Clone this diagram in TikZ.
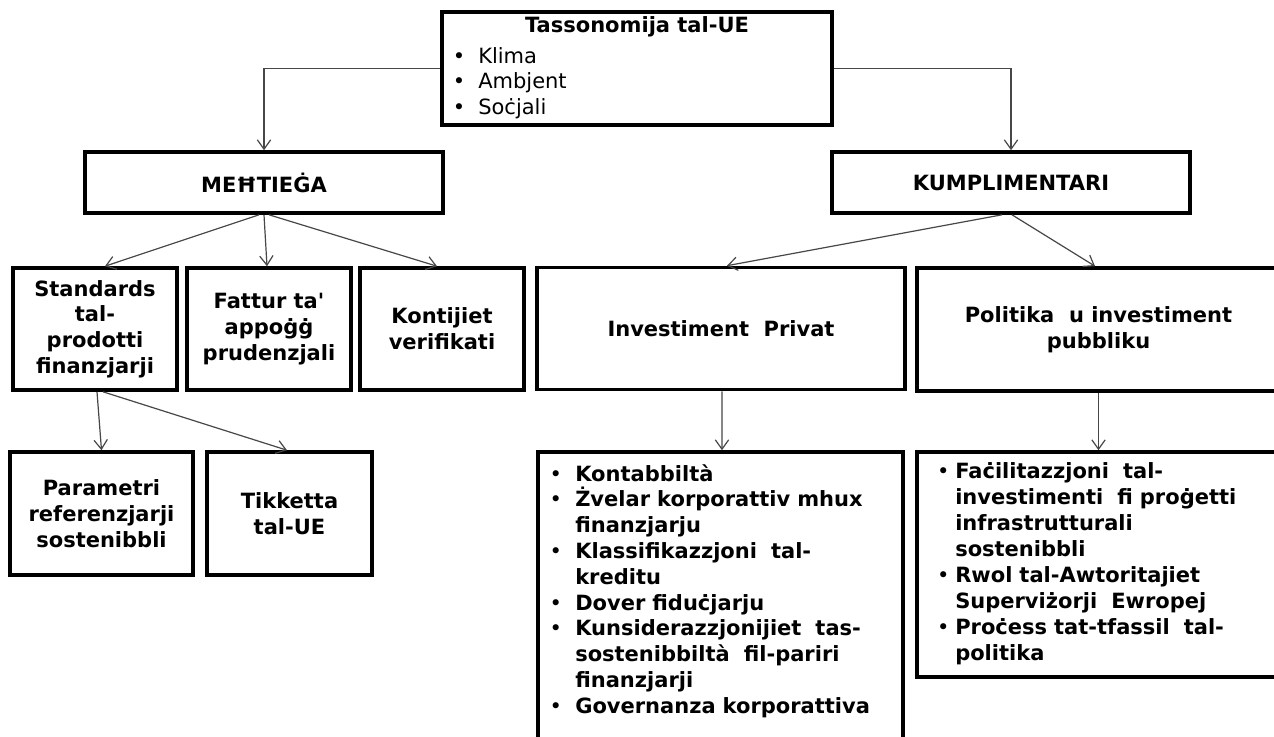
\documentclass[tikz,border=0pt]{standalone}
\usepackage{fontspec}
\setmainfont{DejaVu Sans}
\usetikzlibrary{arrows.meta}
\newcommand{\bigfont}{\fontsize{15.75pt}{19.35pt}\selectfont}
\newcommand{\bulA}{\leavevmode\llap{{\mdseries\textbullet}\hspace{9.8pt}}}
\newcommand{\bulB}{\leavevmode\llap{{\mdseries\textbullet}\hspace{10pt}}}
\newcommand{\bulC}{\leavevmode\llap{{\mdseries\textbullet}\hspace{4.4pt}}}
\tikzset{
  box/.style={draw=black, line width=2.7pt, fill=white, inner sep=0pt, align=center,
    font=\bfseries\bigfont},
  txt/.style={inner sep=0pt, anchor=base west, align=left},
  conn/.style={draw=black!72, line width=0.9pt, -{Straight Barb[length=7pt,width=10pt]}}
}
\begin{document}
\begin{tikzpicture}[x=0.75pt,y=-0.75pt]
\useasboundingbox (0,0) rectangle (1274,736);
\fill[white] (0,0) rectangle (1274,736);
\clip (0,0) rectangle (1274,736);

% top box
\node[box, minimum width=292.5pt, minimum height=84.75pt] (top) at (637,68.5) {};
\node[inner sep=0pt, anchor=base, font=\bfseries\bigfont] (toptitle) at (637,32) {Tassonomija tal-UE};
\node[txt, text width=200pt, font=\fontsize{15.75pt}{19.1pt}\selectfont] (toplist) at (478,63.5)
  {\bulA Klima\\ \bulA Ambjent\\ \bulA Soċjali};

% second level
\node[box, minimum width=268.5pt, minimum height=45.75pt] (meh) at (264,182.5) {MEĦTIEĠA};
\node[box, minimum width=268.5pt, minimum height=45.75pt] (kump) at (1011,182.5) {KUMPLIMENTARI};

% third level
\node[box, minimum width=123pt, minimum height=91.5pt] (std) at (95,329)
  {Standards\\tal-\\prodotti\\finanzjarji};
\node[box, minimum width=123pt, minimum height=91.5pt] (fat) at (269,329)
  {Fattur ta\textquotesingle\\appoġġ\\prudenzjali};
\node[box, minimum width=123pt, minimum height=91.5pt] (kon) at (442,329)
  {Kontijiet\\verifikati};
\node[box, minimum width=276pt, minimum height=91.5pt] (inv) at (721,328.5)
  {Investiment\ \ Privat};
\node[box, minimum width=272.25pt, minimum height=92.25pt] (pol) at (1098.5,329.5)
  {Politika\ \ u investiment\\pubbliku};

% fourth level
\node[box, minimum width=137.25pt, minimum height=92.25pt] (par) at (101.5,513.5)
  {Parametri\\referenzjarji\\sostenibbli};
\node[box, minimum width=123.75pt, minimum height=92.25pt] (tik) at (289.5,513.5)
  {Tikketta\\tal-UE};
\node[box, minimum width=273.75pt, minimum height=231pt] (lst) at (720.5,606) {};
\node[box, minimum width=272.25pt, minimum height=168.75pt] (fac) at (1098.5,564.5) {};

\node[txt, text width=260pt, font=\bfseries\fontsize{15.75pt}{19.35pt}\selectfont] (lsttxt) at (575,481)
  {\bulB Kontabbiltà\\
   \bulB Żvelar korporattiv mhux\\
   finanzjarju\\
   \bulB Klassifikazzjoni\ \ tal-\\
   kreditu\\
   \bulB Dover fiduċjarju\\
   \bulB Kunsiderazzjonijiet\ \ tas-\\
   sostenibbiltà\ \ fil-pariri\\
   finanzjarji\\
   \bulB Governanza korporattiva};

\node[txt, text width=260pt, font=\bfseries\fontsize{15.75pt}{19.55pt}\selectfont] (factxt) at (955,478)
  {\bulC Faċilitazzjoni\ \ tal-\\
   investimenti\ \ fi proġetti\\
   infrastrutturali\\
   sostenibbli\\
   \bulC Rwol tal-Awtoritajiet\\
   Superviżorji\ \ Ewropej\\
   \bulC Proċess tat-tfassil\ \ tal-\\
   politika};

% connectors
\draw[conn] (top.west) -| (meh.north);
\draw[conn] (top.east) -| (kump.north);
\draw[conn] ([xshift=-3.75pt]meh.south) -- ([xshift=7.5pt]std.north);
\draw[conn] (meh.south) -- ([xshift=-1.5pt]fat.north);
\draw[conn] ([xshift=3.75pt]meh.south) -- ([xshift=-3.75pt]kon.north);
\draw[conn] ([xshift=-6.75pt]kump.south) -- ([xshift=4.5pt]inv.north);
\draw[conn] ([xshift=0.75pt]kump.south) -- ([xshift=-2.6pt]pol.north);
\draw[conn] ([xshift=0.75pt]inv.south) -- ([xshift=1.1pt]lst.north);
\draw[conn] (pol.south) -- (fac.north);
\draw[conn] ([xshift=1.5pt]std.south) -- (par.north);
\draw[conn] ([xshift=6pt]std.south) -- ([xshift=-1.9pt]tik.north);
\end{tikzpicture}
\end{document}
